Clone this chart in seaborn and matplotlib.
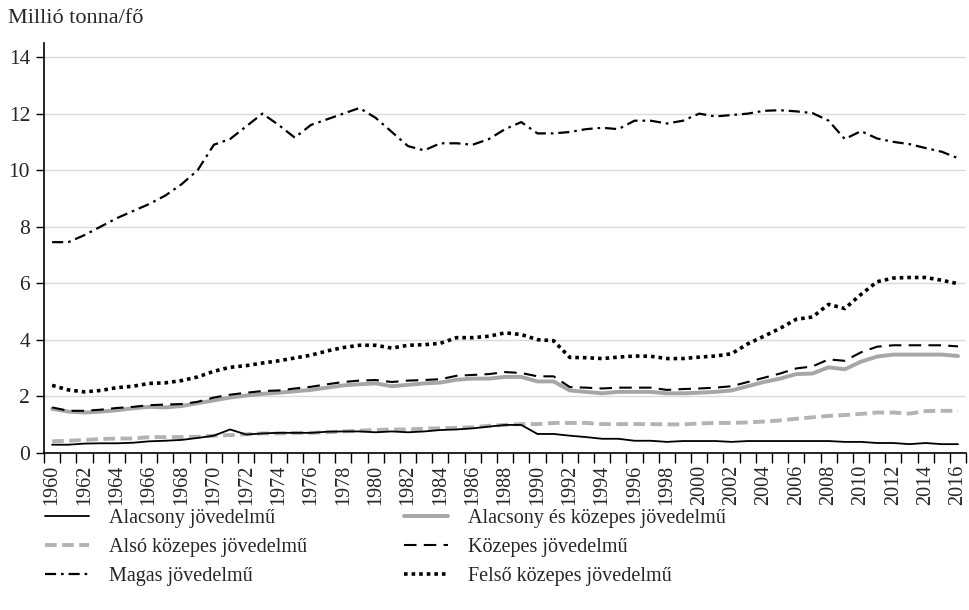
import numpy as np
import pandas as pd
import matplotlib
matplotlib.use('Agg')
import matplotlib.pyplot as plt
import seaborn as sns

# Data (million tonnes per capita)
years = list(range(1960, 2017))

alacsony = [0.28, 0.28, 0.32, 0.33, 0.33, 0.35, 0.40, 0.42, 0.45, 0.52,
            0.60, 0.82, 0.64, 0.68, 0.70, 0.70, 0.70, 0.74, 0.75, 0.75,
            0.72, 0.75, 0.72, 0.75, 0.80, 0.82, 0.86, 0.92, 0.98, 0.98,
            0.66, 0.66, 0.60, 0.55, 0.49, 0.49, 0.42, 0.42, 0.38, 0.41,
            0.41, 0.41, 0.38, 0.41, 0.41, 0.41, 0.41, 0.41, 0.41, 0.38,
            0.38, 0.34, 0.34, 0.30, 0.34, 0.30, 0.30]

also_kozepes = [0.40, 0.42, 0.45, 0.48, 0.50, 0.50, 0.55, 0.55, 0.55, 0.56,
                0.60, 0.62, 0.65, 0.68, 0.68, 0.70, 0.70, 0.72, 0.75, 0.78,
                0.80, 0.82, 0.82, 0.85, 0.86, 0.88, 0.90, 0.95, 0.98, 1.01,
                1.01, 1.05, 1.05, 1.05, 1.01, 1.01, 1.01, 1.01, 1.00, 1.00,
                1.03, 1.05, 1.05, 1.07, 1.10, 1.14, 1.20, 1.25, 1.30, 1.33,
                1.37, 1.42, 1.42, 1.38, 1.47, 1.48, 1.48]

magas = [7.45, 7.45, 7.70, 8.00, 8.30, 8.55, 8.80, 9.10, 9.50, 10.0,
         10.9, 11.1, 11.55, 12.0, 11.6, 11.15, 11.6, 11.8, 12.0, 12.2,
         11.85, 11.35, 10.85, 10.7, 10.95, 10.95, 10.9, 11.1, 11.45, 11.7,
         11.3, 11.3, 11.35, 11.45, 11.5, 11.45, 11.75, 11.75, 11.65, 11.75,
         12.0, 11.9, 11.95, 12.0, 12.1, 12.12, 12.08, 12.02, 11.75, 11.1,
         11.38, 11.12, 11.0, 10.92, 10.78, 10.65, 10.42]

alacsony_es_kozepes = [1.55, 1.45, 1.42, 1.45, 1.50, 1.57, 1.62, 1.60, 1.65, 1.75,
                       1.85, 1.95, 2.02, 2.08, 2.12, 2.17, 2.22, 2.30, 2.38, 2.42,
                       2.45, 2.35, 2.40, 2.45, 2.48, 2.58, 2.62, 2.62, 2.68, 2.68,
                       2.52, 2.52, 2.20, 2.15, 2.10, 2.15, 2.15, 2.15, 2.10, 2.10,
                       2.12, 2.15, 2.20, 2.35, 2.50, 2.62, 2.78, 2.80, 3.02, 2.95,
                       3.22, 3.40, 3.47, 3.47, 3.47, 3.47, 3.42]

kozepes = [1.60, 1.48, 1.48, 1.52, 1.58, 1.62, 1.68, 1.70, 1.72, 1.80,
           1.95, 2.05, 2.12, 2.18, 2.20, 2.27, 2.33, 2.42, 2.50, 2.55,
           2.57, 2.50, 2.55, 2.57, 2.60, 2.72, 2.75, 2.78, 2.85, 2.82,
           2.70, 2.70, 2.32, 2.30, 2.27, 2.30, 2.30, 2.30, 2.22, 2.25,
           2.27, 2.30, 2.35, 2.50, 2.65, 2.80, 2.98, 3.05, 3.30, 3.25,
           3.55, 3.75, 3.80, 3.80, 3.80, 3.80, 3.76]

felso_kozepes = [2.38, 2.22, 2.15, 2.20, 2.30, 2.35, 2.45, 2.47, 2.55, 2.68,
                 2.88, 3.02, 3.08, 3.17, 3.25, 3.35, 3.45, 3.60, 3.72, 3.80,
                 3.80, 3.70, 3.80, 3.82, 3.87, 4.07, 4.07, 4.12, 4.24, 4.18,
                 4.00, 3.96, 3.37, 3.36, 3.33, 3.38, 3.42, 3.41, 3.33, 3.33,
                 3.38, 3.42, 3.50, 3.85, 4.12, 4.40, 4.72, 4.80, 5.25, 5.10,
                 5.60, 6.05, 6.18, 6.20, 6.20, 6.10, 5.98]

labels = ['Alacsony jövedelmű', 'Alsó közepes jövedelmű', 'Magas jövedelmű',
          'Alacsony és közepes jövedelmű', 'Közepes jövedelmű', 'Felső közepes jövedelmű']
series = [alacsony, also_kozepes, magas, alacsony_es_kozepes, kozepes, felso_kozepes]

styles = {
    'Alacsony jövedelmű': dict(color='black', lw=1.3, dashes=None),
    'Alsó közepes jövedelmű': dict(color='#b3b3b3', lw=2.8, dashes=(3, 1.4)),
    'Magas jövedelmű': dict(color='black', lw=1.6, dashes=(5, 2.2, 1.2, 2.2)),
    'Alacsony és közepes jövedelmű': dict(color='#a6a6a6', lw=2.8, dashes=None),
    'Közepes jövedelmű': dict(color='black', lw=1.5, dashes=(6, 3.5)),
    'Felső közepes jövedelmű': dict(color='black', lw=2.6, dashes=(1, 1.1)),
}

df = pd.DataFrame({'Év': years * len(labels),
                   'Érték': np.concatenate(series),
                   'Csoport': np.repeat(labels, len(years))})

sns.set_style('white')
plt.rcParams['font.family'] = ['Liberation Serif', 'DejaVu Serif']

fig = plt.figure(figsize=(9.7, 6.1), dpi=100)
ax = fig.add_axes([0.0454, 0.258, 0.9506, 0.6715])

# draw in an order so the black lines sit over the grey ones
draw_order = ['Alacsony és közepes jövedelmű', 'Alsó közepes jövedelmű',
              'Alacsony jövedelmű', 'Közepes jövedelmű', 'Magas jövedelmű',
              'Felső közepes jövedelmű']
handles = {}
for name in draw_order:
    st = styles[name]
    sub = df[df['Csoport'] == name]
    sns.lineplot(data=sub, x='Év', y='Érték', ax=ax, color=st['color'],
                 linewidth=st['lw'], label=name, legend=False)
    line = ax.get_lines()[-1]
    if st['dashes'] is not None:
        line.set_dashes(st['dashes'])
    handles[name] = line

ax.set_xlim(1959.5, 2016.5)
ax.set_ylim(0, 14.5)
ax.set_yticks(range(0, 15, 2))
ax.set_xticks(range(1960, 2017, 2))
ax.set_xticks(np.arange(1959.5, 2017, 1), minor=True)
ax.tick_params(axis='x', which='major', length=0, labelrotation=90, labelsize=14.5, pad=9)
ax.tick_params(axis='x', which='minor', length=7, width=1, color='black', direction='out', bottom=True)
ax.tick_params(axis='y', length=6, width=1, color='black', direction='out', left=True, labelsize=15.5, pad=4)
ax.set_xlabel('')
ax.set_ylabel('')
ax.grid(axis='y', color='#d9d9d9', linewidth=1)
ax.set_axisbelow(True)
for s in ['top', 'right']:
    ax.spines[s].set_visible(False)
for s in ['left', 'bottom']:
    ax.spines[s].set_color('black')
    ax.spines[s].set_linewidth(1.2)

fig.text(0.008, 0.97, 'Millió tonna/fő', fontsize=16, ha='left', va='center')

fig.legend([handles[n] for n in labels], labels, loc='upper left', ncol=2,
           bbox_to_anchor=(0.046, 0.166), frameon=False, fontsize=14.5,
           handlelength=2.2, handletextpad=1.0, columnspacing=4.8,
           labelspacing=0.5, borderpad=0, borderaxespad=0)

fig.savefig('out.png', dpi=100)
